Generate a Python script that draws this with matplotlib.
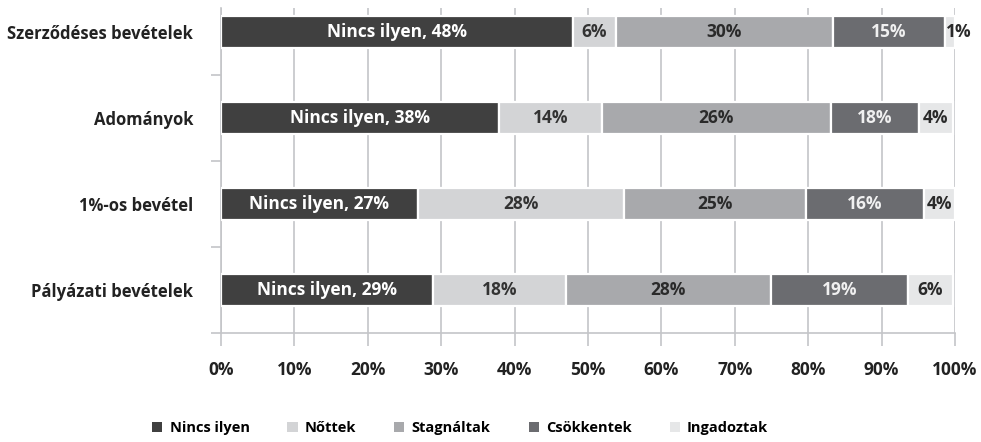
import matplotlib
matplotlib.use('Agg')
import matplotlib.pyplot as plt
from matplotlib.patches import Patch
import numpy as np

plt.rcParams['font.family'] = ['Open Sans', 'DejaVu Sans']
plt.rcParams['font.weight'] = 'bold'

# ── Data (bottom row first) ─────────────────────────────────────────────────
categories = ['Pályázati bevételek', '1%-os bevétel', 'Adományok', 'Szerződéses bevételek']
series = ['Nincs ilyen', 'Nőttek', 'Stagnáltak', 'Csökkentek', 'Ingadoztak']

# bar widths as drawn in the picture
nincs = [28.9, 26.8, 37.9, 48.0]
nottek = [18.1, 28.1, 14.0, 5.8]
stagnaltak = [27.9, 24.8, 31.2, 29.6]
csokkentek = [18.7, 16.1, 12.0, 15.2]
ingadoztak = [6.1, 4.2, 4.6, 1.4]

# printed labels
lab_nincs = ['Nincs ilyen, 29%', 'Nincs ilyen, 27%', 'Nincs ilyen, 38%', 'Nincs ilyen, 48%']
lab_nottek = ['18%', '28%', '14%', '6%']
lab_stagnaltak = ['28%', '25%', '26%', '30%']
lab_csokkentek = ['19%', '16%', '18%', '15%']
lab_ingadoztak = ['6%', '4%', '4%', '1%']

colors = ['#404040', '#d3d4d6', '#a8a9ac', '#6b6c70', '#e6e7e8']
text_colors = ['#ffffff', '#333333', '#2a2a2a', '#f0f0f0', '#2a2a2a']

values = [nincs, nottek, stagnaltak, csokkentek, ingadoztak]
labels = [lab_nincs, lab_nottek, lab_stagnaltak, lab_csokkentek, lab_ingadoztak]

fig = plt.figure(figsize=(9.81, 4.42), dpi=100)
ax = fig.add_axes([0.2253, 0.2466, 0.9735 - 0.2253, 0.982 - 0.2466])

y = np.arange(len(categories))
left = np.zeros(len(categories))
grid_col = '#c4c5c8'
fs_bar = 12.5

for vals, labs, col, tcol in zip(values, labels, colors, text_colors):
    vals = np.array(vals)
    ax.barh(y, vals, left=left, height=0.37, color=col,
            edgecolor='white', linewidth=1.6, zorder=3)
    for yi, (l, w, t) in enumerate(zip(left, vals, labs)):
        cx = l + w / 2
        if w < 2:
            cx += 1.2
        ax.text(cx, yi, t, ha='center', va='center', fontsize=fs_bar,
                fontweight='bold', color=tcol, zorder=4)
    left += vals

ax.set_xlim(0, 100)
ax.set_ylim(-0.5, 3.28)

ax.set_xticks(np.arange(0, 101, 10))
ax.set_xticklabels([f'{v}%' for v in range(0, 101, 10)])
ax.tick_params(axis='x', length=9, width=1.2, color=grid_col, pad=11,
               labelsize=12.5, labelcolor='#222222')

ax.set_yticks(y)
ax.set_yticklabels(categories)
ax.tick_params(axis='y', which='major', length=0, pad=20,
               labelsize=12, labelcolor='#222222')
ax.set_yticks([-0.5, 0.5, 1.5, 2.5], minor=True)
ax.tick_params(axis='y', which='minor', length=7, width=1.2, color=grid_col)

ax.grid(axis='x', color=grid_col, linewidth=1.2, zorder=0)
ax.set_axisbelow(True)
for s in ['top', 'right']:
    ax.spines[s].set_visible(False)
for s in ['left', 'bottom']:
    ax.spines[s].set_color(grid_col)
    ax.spines[s].set_linewidth(1.2)

handles = [Patch(facecolor=c, edgecolor='none', label=s) for c, s in zip(colors, series)]
fig.legend(handles=handles, loc='center', bbox_to_anchor=(0.469, 0.032), ncol=5,
           frameon=False, handlelength=0.7, handleheight=0.7,
           handletextpad=0.5, columnspacing=2.6,
           prop={'weight': 'bold', 'size': 10.5})

fig.savefig('out.png', dpi=100, facecolor='white')
